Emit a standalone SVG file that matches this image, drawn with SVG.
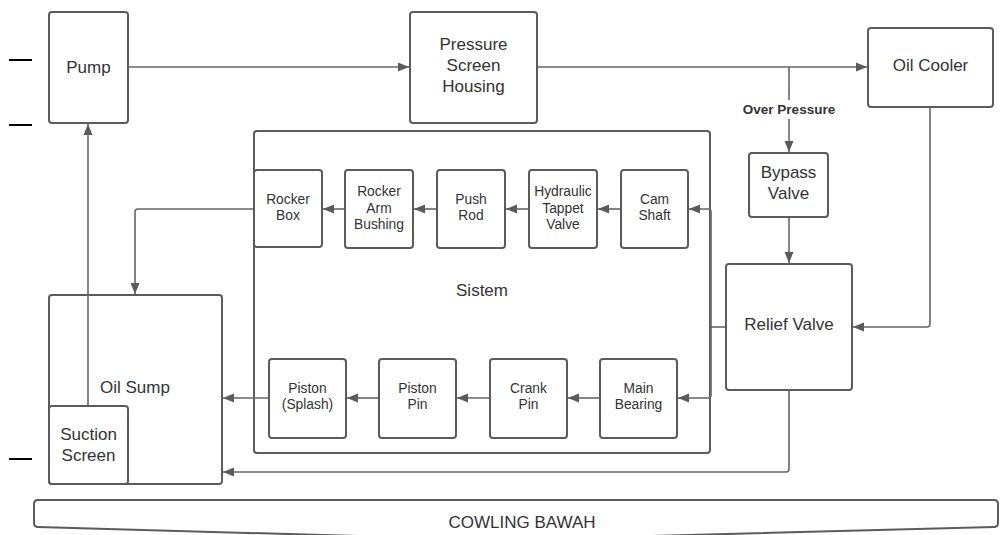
<svg xmlns="http://www.w3.org/2000/svg" width="1000" height="535" viewBox="0 0 1000 535">
<style>
.box{fill:#fff;stroke:#5b5b5b;stroke-width:2}
.ln{fill:none;stroke:#666;stroke-width:1.6}
.t{font-family:"Liberation Sans",Arial,sans-serif;font-size:17px;fill:#333;text-anchor:middle}
.s{font-size:13.8px}
.b{font-weight:bold;font-size:13.5px}
.dash{stroke:#000;stroke-width:2}
</style>
<defs>
<marker id="ah" markerWidth="12" markerHeight="10" refX="11" refY="5" orient="auto" markerUnits="userSpaceOnUse">
<path d="M0,0.5 L11,5 L0,9.5 Z" fill="#5b5b5b"/>
</marker>
</defs>
<rect width="1000" height="535" fill="#fff"/>
<g id="marks">
<line class="dash" x1="9" y1="60" x2="32" y2="60"/>
<line class="dash" x1="9" y1="125" x2="32" y2="125"/>
<line class="dash" x1="9" y1="459" x2="32" y2="459"/>
</g>
<g id="sistem"><rect class="box" x="254" y="131" width="456" height="322" rx="3"/><text class="t" x="482" y="296">Sistem</text></g>
<g id="oil-sump"><rect class="box" x="49" y="295" width="173" height="189" rx="3"/><text class="t" x="135" y="393">Oil Sump</text></g>
<g id="connectors">
<path class="ln" d="M128,67 H409" marker-end="url(#ah)"/>
<path class="ln" d="M537,67 H867" marker-end="url(#ah)"/>
<path class="ln" d="M789,67 V100"/>
<path class="ln" d="M789,119 V152" marker-end="url(#ah)"/>
<path class="ln" d="M789,217 V263" marker-end="url(#ah)"/>
<path class="ln" d="M930,107 V324 Q930,327 927,327 H853" marker-end="url(#ah)"/>
<path class="ln" d="M726,327 H711"/>
<path class="ln" d="M711,327 V212 Q711,209 708,209 H689" marker-end="url(#ah)"/>
<path class="ln" d="M711,327 V395 Q711,398 708,398 H678" marker-end="url(#ah)"/>
<path class="ln" d="M621,209 H598" marker-end="url(#ah)"/>
<path class="ln" d="M529,209 H506" marker-end="url(#ah)"/>
<path class="ln" d="M437,209 H414" marker-end="url(#ah)"/>
<path class="ln" d="M345,209 H323" marker-end="url(#ah)"/>
<path class="ln" d="M254,209 H138 Q135,209 135,212 V294" marker-end="url(#ah)"/>
<path class="ln" d="M600,398 H568" marker-end="url(#ah)"/>
<path class="ln" d="M490,398 H457" marker-end="url(#ah)"/>
<path class="ln" d="M379,398 H347" marker-end="url(#ah)"/>
<path class="ln" d="M269,398 H223" marker-end="url(#ah)"/>
<path class="ln" d="M789,390 V469 Q789,472 786,472 H223" marker-end="url(#ah)"/>
<path class="ln" d="M88,406 V124" marker-end="url(#ah)"/>
<text class="t b" x="789" y="114">Over Pressure</text>
</g>
<g id="pump"><rect class="box" x="49" y="12" width="79" height="111" rx="3"/><text class="t" x="88.5" y="73">Pump</text></g>
<g id="pressure-screen-housing"><rect class="box" x="410" y="12" width="127" height="111" rx="3"/><text class="t" x="473.5" y="50">Pressure</text><text class="t" x="473.5" y="71">Screen</text><text class="t" x="473.5" y="92">Housing</text></g>
<g id="oil-cooler"><rect class="box" x="868" y="28" width="125" height="79" rx="3"/><text class="t" x="930.5" y="71">Oil Cooler</text></g>
<g id="bypass-valve"><rect class="box" x="749" y="153" width="79" height="64" rx="3"/><text class="t" x="788.5" y="178">Bypass</text><text class="t" x="788.5" y="199">Valve</text></g>
<g id="relief-valve"><rect class="box" x="726" y="264" width="126" height="126" rx="3"/><text class="t" x="789" y="330">Relief Valve</text></g>
<g id="rocker-box"><rect class="box" x="254" y="170" width="68" height="77" rx="3"/><text class="t s" x="288" y="204">Rocker</text><text class="t s" x="288" y="220">Box</text></g>
<g id="rocker-arm-bushing"><rect class="box" x="345" y="170" width="68" height="78" rx="3"/><text class="t s" x="379" y="196">Rocker</text><text class="t s" x="379" y="213">Arm</text><text class="t s" x="379" y="229">Bushing</text></g>
<g id="push-rod"><rect class="box" x="437" y="170" width="68" height="78" rx="3"/><text class="t s" x="471" y="204">Push</text><text class="t s" x="471" y="220">Rod</text></g>
<g id="hydraulic-tappet-valve"><rect class="box" x="529" y="170" width="68" height="78" rx="3"/><text class="t s" x="563" y="196">Hydraulic</text><text class="t s" x="563" y="213">Tappet</text><text class="t s" x="563" y="229">Valve</text></g>
<g id="cam-shaft"><rect class="box" x="621" y="170" width="67" height="78" rx="3"/><text class="t s" x="654.5" y="204">Cam</text><text class="t s" x="654.5" y="220">Shaft</text></g>
<g id="piston-splash"><rect class="box" x="269" y="359" width="77" height="79" rx="3"/><text class="t s" x="307.5" y="393">Piston</text><text class="t s" x="307.5" y="409">(Splash)</text></g>
<g id="piston-pin"><rect class="box" x="379" y="359" width="77" height="79" rx="3"/><text class="t s" x="417.5" y="393">Piston</text><text class="t s" x="417.5" y="409">Pin</text></g>
<g id="crank-pin"><rect class="box" x="490" y="359" width="77" height="79" rx="3"/><text class="t s" x="528.5" y="393">Crank</text><text class="t s" x="528.5" y="409">Pin</text></g>
<g id="main-bearing"><rect class="box" x="600" y="359" width="77" height="79" rx="3"/><text class="t s" x="638.5" y="393">Main</text><text class="t s" x="638.5" y="409">Bearing</text></g>
<g id="suction-screen"><rect class="box" x="49" y="406" width="79" height="78" rx="3"/><text class="t" x="88.5" y="440">Suction</text><text class="t" x="88.5" y="461">Screen</text></g>
<g id="cowling-bawah"><path d="M38,500 H994 Q998,500 998,504 V523 Q998,527 994,527 L500,540 L38,527 Q34,527 34,523 V504 Q34,500 38,500 Z" fill="#fff" stroke="#5b5b5b" stroke-width="2"/><text class="t" x="522" y="528">COWLING BAWAH</text></g>
</svg>
